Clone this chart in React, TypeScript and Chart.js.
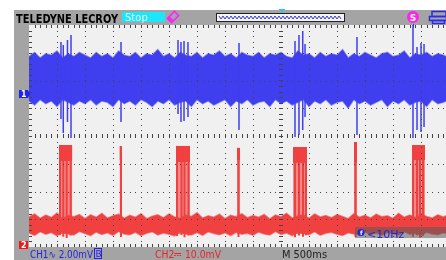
import React, { useEffect, useRef } from "react";
import { Chart, registerables } from "chart.js";

Chart.register(...registerables);

// ---- time base: 500 ms/div, trigger at screen centre (s) ----
const timeS = [
  -4.5, -4.4, -4.3, -4.2, -4.1, -4.0, -3.9, -3.8, -3.7, -3.6,
  -3.5, -3.4, -3.3, -3.2, -3.1, -3.0, -2.9, -2.8, -2.7, -2.6,
  -2.5, -2.4, -2.3, -2.2, -2.1, -2.0, -1.9, -1.8, -1.7, -1.6,
  -1.5, -1.4, -1.3, -1.2, -1.1, -1.0, -0.9, -0.8, -0.7, -0.6,
  -0.5, -0.4, -0.3, -0.2, -0.1, 0.0, 0.1, 0.2, 0.3, 0.4,
  0.5, 0.6, 0.7, 0.8, 0.9, 1.0, 1.1, 1.2, 1.3, 1.4,
  1.5, 1.6, 1.7, 1.8, 1.9, 2.0, 2.1, 2.2, 2.3, 2.4,
  2.5, 2.6, 2.7, 2.8, 2.9, 2.95,
];

// ---- CH1 (2.00 mV/div, AC) noise envelope, mV ----
const ch1Upper = [
  2.7, 3.0, 2.6, 2.9, 2.8, 3.1, 2.6, 2.9, 2.7, 3.0,
  2.8, 2.6, 3.0, 2.7, 2.9, 2.6, 3.1, 2.8, 2.7, 3.0,
  2.6, 2.9, 2.8, 3.2, 2.7, 2.9, 2.6, 3.0, 2.8, 2.7,
  3.0, 2.6, 2.9, 2.8, 3.1, 2.7, 2.9, 2.6, 3.0, 2.8,
  2.7, 3.0, 2.6, 2.9, 2.8, 3.0, 2.7, 2.6, 3.1, 2.8,
  2.9, 2.6, 3.0, 2.7, 2.9, 2.8, 3.2, 2.6, 2.9, 2.7,
  3.0, 2.8, 2.6, 2.9, 3.0, 2.7, 2.8, 3.1, 2.6, 2.9,
  2.8, 3.0, 2.7, 2.9, 2.8, 2.7,
];
const ch1Lower = [
  -0.5, -0.8, -0.4, -0.7, -0.5, -0.9, -0.4, -0.6, -0.8, -0.5,
  -0.7, -0.4, -0.8, -0.5, -0.6, -0.9, -0.4, -0.7, -0.5, -0.8,
  -0.4, -0.6, -0.9, -0.5, -0.7, -0.4, -0.8, -0.6, -0.5, -0.9,
  -0.4, -0.7, -0.5, -0.8, -0.6, -0.4, -0.9, -0.5, -0.7, -0.4,
  -0.8, -0.6, -0.5, -0.9, -0.4, -0.7, -0.5, -0.8, -0.6, -0.4,
  -0.9, -0.5, -0.7, -0.4, -0.8, -0.6, -0.5, -1.0, -0.4, -0.7,
  -0.5, -0.8, -0.6, -0.4, -0.9, -0.5, -0.7, -0.4, -0.8, -0.6,
  -0.5, -0.9, -0.4, -0.7, -0.6, -0.5,
];

// ---- CH1 glitches (s, mV) ----
const ch1SpikeT = [
  -3.929, -3.888, -3.813, -3.75, -2.857,
  -1.839, -1.786, -1.732, -1.661, -0.75,
  0.25, 0.321, 0.388, 0.429, 1.357,
  2.357, 2.429, 2.5, 2.554,
];
const ch1SpikeHigh = [
  3.75, 3.53, 3.89, 4.25, 3.75,
  3.89, 3.75, 3.82, 3.75, 3.68,
  3.82, 4.25, 4.54, 3.6, 4.11,
  4.97, 3.39, 3.68, 3.6,
];
const ch1SpikeLow = [
  -1.8, -2.81, -2.02, -3.17, -2.02,
  -1.44, -2.02, -1.95, -1.66, -2.59,
  -3.1, -2.95, -2.59, -1.66, -2.95,
  -3.17, -2.59, -2.74, -2.38,
];

// ---- CH2 (10.0 mV/div, DC) baseline envelope, mV ----
const ch2Upper = [
  10.1, 11.2, 9.6, 10.8, 9.9, 11.5, 9.4, 10.6, 10.2, 11.0,
  9.5, 10.9, 10.0, 11.4, 9.7, 10.5, 11.1, 9.6, 10.7, 10.0,
  11.3, 9.5, 10.4, 10.9, 9.8, 11.2, 10.1, 9.6, 10.8, 10.3,
  11.6, 9.7, 10.5, 10.0, 11.1, 9.5, 10.7, 10.2, 11.3, 9.8,
  10.6, 10.0, 11.0, 9.4, 10.8, 10.2, 11.4, 9.7, 10.5, 10.9,
  9.6, 11.2, 10.1, 10.6, 9.8, 11.0, 10.3, 9.5, 11.3, 10.0,
  10.7, 9.7, 11.1, 10.2, 10.5, 9.6, 11.4, 10.0, 10.8, 9.9,
  11.2, 10.3, 9.7, 10.9, 10.1, 10.6,
];
const ch2Lower = [
  4.3, 3.5, 4.8, 3.9, 4.5, 3.3, 4.6, 4.0, 3.6, 4.9,
  4.1, 3.4, 4.7, 3.8, 4.4, 3.5, 4.9, 4.0, 3.7, 4.6,
  3.4, 4.2, 4.8, 3.6, 4.3, 3.9, 3.3, 4.7, 4.0, 3.6,
  4.5, 3.5, 4.8, 4.1, 3.7, 4.4, 3.4, 4.6, 3.9, 4.2,
  3.5, 4.7, 4.0, 3.6, 4.9, 3.8, 4.3, 3.4, 4.5, 4.1,
  3.7, 4.8, 3.5, 4.2, 4.6, 3.9, 3.4, 4.4, 4.0, 3.6,
  4.7, 3.8, 4.3, 3.5, 4.5, 4.1, 3.6, 4.8, 3.9, 4.2,
  3.5, 4.6, 4.0, 3.7, 4.4, 4.1,
];

// ---- CH2 pulse bursts (s, mV) ----
const ch2BurstStart = [-3.964, -2.884, -1.875, -0.786, 0.214, 1.304, 2.339];
const ch2BurstEnd = [-3.727, -2.839, -1.625, -0.732, 0.464, 1.357, 2.571];
const ch2BurstTop = [36.0, 35.7, 35.7, 35.0, 35.3, 37.1, 36.0];
const ch2BurstKnee = [30.3, 30.6, 29.9, 30.6, 29.6, 29.6, 30.6];
const ch2BurstBase = 4.0;

const ch2PulseT = [
  -3.946, -3.888, -3.827, -3.755, -2.857,
  -1.857, -1.777, -1.723, -1.652, -0.759,
  0.25, 0.321, 0.393, 0.446, 1.33,
  2.357, 2.429, 2.482, 2.536,
];
const ch2PulseTop = [
  35.7, 35.7, 35.7, 35.7, 35.7,
  35.7, 35.7, 35.7, 35.7, 35.0,
  35.3, 35.3, 35.3, 35.3, 37.1,
  36.0, 36.0, 36.0, 36.0,
];
const ch2PulseBottom = [
  3.6, 3.0, 2.5, 3.4, 2.9,
  3.2, 3.6, 2.8, 3.4, 2.9,
  2.8, 3.4, 3.0, 3.5, 2.9,
  3.0, 3.5, 2.7, 3.3,
];

// ---- styling ----
const W = 446;
const H = 260;
const BLUE = "#3f3ff0";
const RED = "#f04040";
const GRAY = "#a4a4a4";
const PLOT_BG = "#f0f0f0";

function segmentPoints(ts: number[], lo: number[], hi: number[]) {
  const pts: any[] = [];
  ts.forEach((t, i) => {
    pts.push({ x: t, y: lo[i] });
    pts.push({ x: t, y: hi[i] });
    pts.push({ x: t, y: null });
  });
  return pts;
}

function drawGraticule(chart: any) {
  const ctx = chart.ctx;
  const xs = chart.scales.x;
  const { left, top, right, bottom } = chart.chartArea;
  const divY = (bottom - top) / 8;
  const divX = xs.getPixelForValue(0) - xs.getPixelForValue(-0.5);
  const mX = divX / 5;
  const mY = divY / 5;
  const cx = Math.round(xs.getPixelForValue(0));
  const cy = Math.round(top + 4 * divY);
  ctx.save();
  ctx.fillStyle = "#444";
  for (let k = 1; k < 18; k++) {
    const px = Math.round(xs.getPixelForValue(-4.5 + 0.5 * k));
    if (px >= right) break;
    for (let y = top + mY; y < bottom - 1; y += mY) ctx.fillRect(px, Math.round(y), 1, 1);
  }
  for (let k = 1; k < 8; k++) {
    const py = Math.round(top + k * divY);
    for (let x = left + mX; x < right; x += mX) ctx.fillRect(Math.round(x), py, 1, 1);
  }
  for (let x = left + mX; x < right; x += mX) {
    ctx.fillRect(Math.round(x), cy - 2, 1, 4);
    ctx.fillRect(Math.round(x), top, 1, 3);
    ctx.fillRect(Math.round(x), bottom - 3, 1, 3);
  }
  for (let y = top + mY; y < bottom - 1; y += mY) {
    ctx.fillRect(cx - 2, Math.round(y), 4, 1);
    ctx.fillRect(left, Math.round(y), 3, 1);
  }
  ctx.restore();
}

function drawChrome(chart: any) {
  const ctx = chart.ctx;
  ctx.save();
  // header
  ctx.fillStyle = "#000";
  ctx.font = 'bold 13px "DejaVu Sans Condensed", "DejaVu Sans"';
  ctx.textBaseline = "alphabetic";
  ctx.fillText("TELEDYNE LECROY", 16, 22.5, 102);
  ctx.fillStyle = "#1ee6fa";
  ctx.fillRect(122, 12, 43, 10);
  ctx.fillStyle = "#e8f4f8";
  ctx.font = '10px "DejaVu Sans"';
  ctx.fillText("Stop", 125, 21);
  // pen icon
  ctx.save();
  ctx.translate(173, 17);
  ctx.rotate(-0.8);
  ctx.strokeStyle = "#ff22ff";
  ctx.fillStyle = "#ff22ff";
  ctx.lineWidth = 1.5;
  ctx.strokeRect(-5, -3, 10, 6);
  ctx.fillRect(-5, -3, 3, 6);
  ctx.restore();
  // timebase window
  ctx.fillStyle = "#f4f4f4";
  ctx.fillRect(216, 13, 129, 9);
  ctx.strokeStyle = "#222";
  ctx.lineWidth = 1;
  ctx.strokeRect(216.5, 13.5, 128, 8);
  ctx.strokeStyle = "#3a3ae8";
  ctx.beginPath();
  for (let x = 219, i = 0; x <= 342; x += 2, i++) {
    const y = i % 2 === 0 ? 16 : 19;
    if (i === 0) ctx.moveTo(x, y);
    else ctx.lineTo(x, y);
  }
  ctx.stroke();
  // trigger position marker
  ctx.fillStyle = "#22ccee";
  ctx.fillRect(279, 9, 6, 1);
  ctx.fillRect(281, 9, 2, 4);
  // S icon
  ctx.fillStyle = "#ff22ee";
  ctx.beginPath();
  ctx.arc(413, 17, 6, 0, Math.PI * 2);
  ctx.fill();
  ctx.fillStyle = "#fff";
  ctx.font = 'bold 9px "DejaVu Sans"';
  ctx.textAlign = "center";
  ctx.fillText("S", 413, 20.5);
  ctx.textAlign = "left";
  // printer icon
  ctx.strokeStyle = "#2a2ae8";
  ctx.lineWidth = 1.5;
  ctx.strokeRect(432, 11.5, 14, 5);
  ctx.strokeRect(429.5, 16.5, 17, 4);
  ctx.strokeRect(432.5, 20.5, 12, 3);
  // trigger tick on ruler
  ctx.fillStyle = "#3a3ae8";
  ctx.fillRect(413, 24, 1, 4);

  // channel markers
  ctx.fillStyle = "#2222f0";
  ctx.fillRect(19, 90, 9, 8);
  ctx.beginPath();
  ctx.moveTo(28, 90);
  ctx.lineTo(30, 94);
  ctx.lineTo(28, 98);
  ctx.fill();
  ctx.fillStyle = "#ffffff";
  ctx.font = 'bold 8px "DejaVu Sans"';
  ctx.fillText("1", 21, 97);
  ctx.fillStyle = "#ee1818";
  ctx.fillRect(19, 241, 9, 8);
  ctx.fillStyle = "#ffffff";
  ctx.fillText("2", 21, 248);

  // footer
  ctx.font = '11px "DejaVu Sans"';
  ctx.fillStyle = "#2424e8";
  ctx.fillText("CH1\u223F 2.00mV", 30, 258, 63);
  ctx.strokeStyle = "#2424e8";
  ctx.lineWidth = 1;
  ctx.strokeRect(94.5, 248.5, 7, 10);
  ctx.font = '9px "DejaVu Sans"';
  ctx.fillText("B", 95.5, 257);
  ctx.font = '11px "DejaVu Sans"';
  ctx.fillStyle = "#e82424";
  ctx.fillText("CH2\u2393 10.0mV", 155, 258, 66);
  ctx.fillStyle = "#222";
  ctx.fillText("M 500ms", 282, 258, 45);

  // frequency counter box
  ctx.fillStyle = "rgba(90,90,90,0.55)";
  ctx.fillRect(355, 227, 91, 11);
  ctx.fillStyle = "#2424d8";
  ctx.beginPath();
  ctx.arc(361, 232.5, 3.5, 0, Math.PI * 2);
  ctx.fill();
  ctx.fillStyle = "#fff";
  ctx.font = 'bold 6px "DejaVu Sans"';
  ctx.fillText("f", 360, 235);
  ctx.fillStyle = "#2424d8";
  ctx.font = '11px "DejaVu Sans"';
  ctx.fillText("<10Hz", 367, 237.5);
  ctx.restore();
}

const scopePlugin = {
  id: "scopeScreen",
  beforeDraw(chart: any) {
    const ctx = chart.ctx;
    const { left, top, right, bottom } = chart.chartArea;
    ctx.save();
    ctx.fillStyle = "#ffffff";
    ctx.fillRect(0, 0, W, H);
    ctx.fillStyle = GRAY;
    ctx.fillRect(14, 10, W - 14, H - 10);
    ctx.fillStyle = PLOT_BG;
    ctx.fillRect(left, top, right - left, bottom - top);
    ctx.restore();
  },
  afterDatasetsDraw(chart: any) {
    drawGraticule(chart);
  },
  afterDraw(chart: any) {
    drawChrome(chart);
  },
};

export default function App() {
  const ref = useRef<HTMLCanvasElement | null>(null);
  useEffect(() => {
    if (!ref.current) return;
    const band = (up: number[], lo: number[]) => [
      timeS.map((t, i) => ({ x: t, y: up[i] })),
      timeS.map((t, i) => ({ x: t, y: lo[i] })),
    ];
    const [c1u, c1l] = band(ch1Upper, ch1Lower);
    const [c2u, c2l] = band(ch2Upper, ch2Lower);

    const datasets: any[] = [];
    // CH2 burst regions (pink background between pulses) and solid tops
    ch2BurstStart.forEach((s, i) => {
      datasets.push({
        data: [{ x: s, y: ch2BurstTop[i] }, { x: ch2BurstEnd[i], y: ch2BurstTop[i] }],
        yAxisID: "y2",
        borderWidth: 0,
        borderColor: "rgba(0,0,0,0)",
        backgroundColor: "rgba(240,70,70,0.6)",
        fill: { value: ch2BurstBase },
        order: 8,
      });
      datasets.push({
        data: [{ x: s, y: ch2BurstTop[i] }, { x: ch2BurstEnd[i], y: ch2BurstTop[i] }],
        yAxisID: "y2",
        borderWidth: 0,
        borderColor: "rgba(0,0,0,0)",
        backgroundColor: RED,
        fill: { value: ch2BurstKnee[i] },
        order: 5,
      });
    });
    datasets.push({
      data: c2u,
      yAxisID: "y2",
      borderColor: "rgba(240,64,64,0.55)",
      borderWidth: 1.5,
      backgroundColor: RED,
      fill: "+1",
      order: 6,
    });
    datasets.push({
      data: c2l,
      yAxisID: "y2",
      borderColor: "rgba(240,64,64,0.55)",
      borderWidth: 1.5,
      fill: false,
      order: 6,
    });
    datasets.push({
      data: segmentPoints(ch2PulseT, ch2PulseBottom, ch2PulseTop),
      yAxisID: "y2",
      borderColor: RED,
      borderWidth: 2,
      spanGaps: false,
      fill: false,
      order: 4,
    });
    datasets.push({
      data: c1u,
      yAxisID: "y1",
      borderColor: "rgba(63,63,240,0.5)",
      borderWidth: 1.5,
      backgroundColor: BLUE,
      fill: "+1",
      order: 3,
    });
    datasets.push({
      data: c1l,
      yAxisID: "y1",
      borderColor: "rgba(63,63,240,0.5)",
      borderWidth: 1.5,
      fill: false,
      order: 3,
    });
    datasets.push({
      data: segmentPoints(ch1SpikeT, ch1SpikeLow, ch1SpikeHigh),
      yAxisID: "y1",
      borderColor: BLUE,
      borderWidth: 1.5,
      spanGaps: false,
      fill: false,
      order: 1,
    });

    const chart = new Chart(ref.current, {
      type: "line",
      data: { datasets },
      plugins: [scopePlugin],
      options: {
        animation: false,
        responsive: false,
        devicePixelRatio: 1,
        layout: { padding: { left: 29, top: 25, right: 0, bottom: 13 } },
        elements: { point: { radius: 0 }, line: { tension: 0 } },
        plugins: { legend: { display: false }, tooltip: { enabled: false }, filler: { propagate: false } },
        scales: {
          x: { type: "linear", min: -4.5, max: 2.9464, display: false },
          y1: { type: "linear", min: -11.027, max: 4.973, display: false },
          y2: { type: "linear", min: -0.72, max: 79.28, display: false },
        },
      },
    } as any);
    return () => chart.destroy();
  }, []);
  return (
    <div style={{ position: "fixed", left: 0, top: 0, width: W, height: H }}>
      <canvas ref={ref} width={W} height={H} style={{ display: "block", width: W, height: H }} />
    </div>
  );
}
